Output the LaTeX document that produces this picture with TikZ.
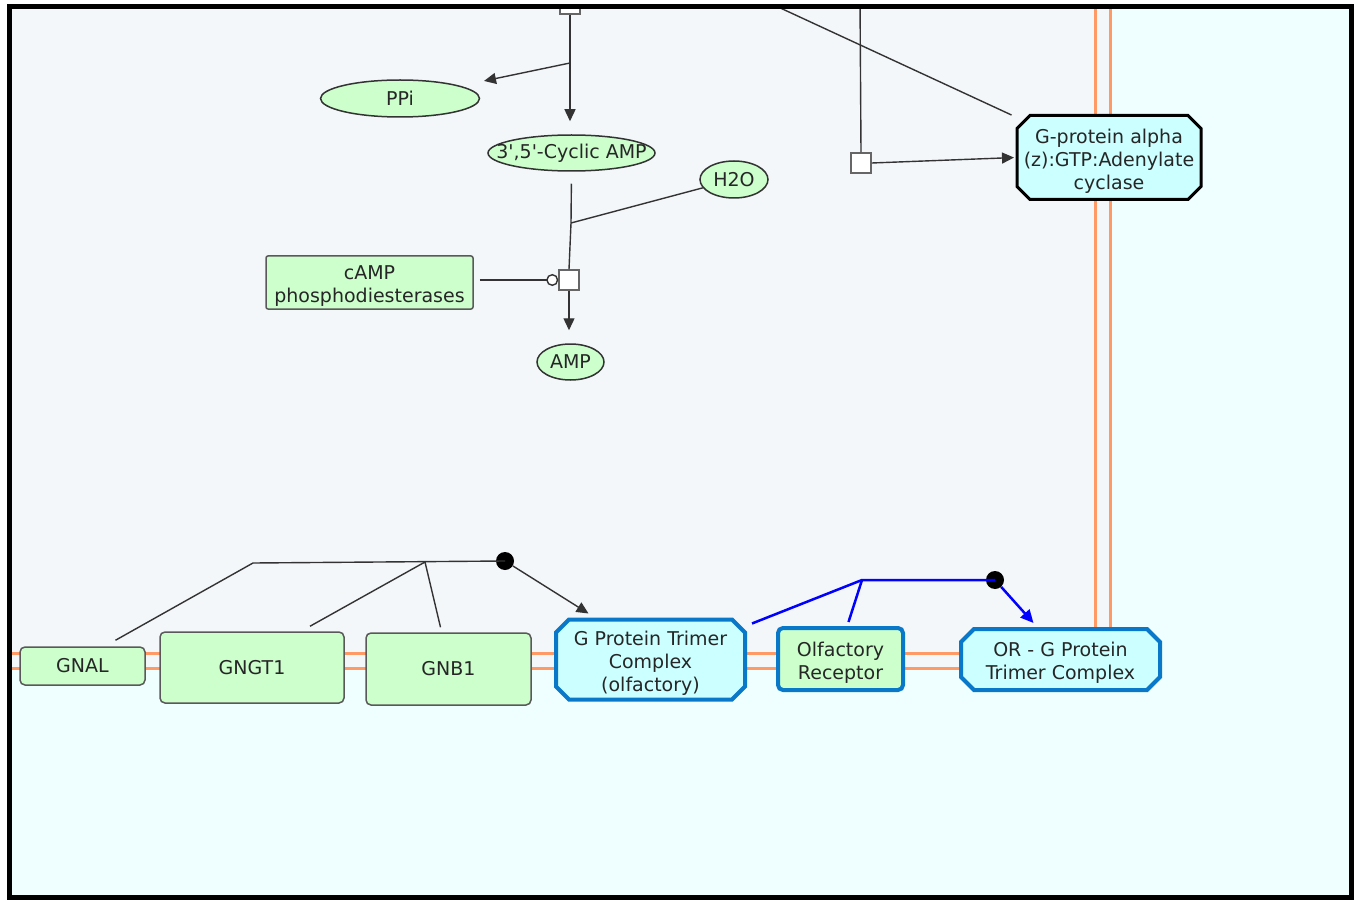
\documentclass[tikz,border=0pt]{standalone}
\usepackage{fontspec}
\setmainfont{DejaVu Sans}
\usetikzlibrary{shapes.geometric,shapes.misc,arrows.meta,calc}
\definecolor{cytobg}{HTML}{F4F7F9}
\definecolor{extbg}{HTML}{EFFFFF}
\definecolor{pgreen}{HTML}{CCFFCC}
\definecolor{pcyan}{HTML}{CCFFFF}
\definecolor{memb}{HTML}{FF9966}
\definecolor{cblue}{HTML}{0A78C8}
\definecolor{rblue}{HTML}{0000FF}
\newcommand{\mlines}[1]{\begin{tabular}[t]{@{}c@{}}#1\end{tabular}}
\tikzset{
  txt/.style={font=\fontsize{19}{23}\selectfont, align=center, text=black!85},
  twolines/.style={text height=17.5pt, text depth=23pt},
  threelines/.style={text height=17.5pt, text depth=46pt},
  ent/.style={ellipse, draw=black!80, line width=1.5pt, fill=pgreen, inner sep=0pt, txt},
  prot/.style={rectangle, rounded corners=5pt, draw=black!65, line width=1.5pt, fill=pgreen, inner sep=0pt, txt},
  cplx/.style={chamfered rectangle, chamfered rectangle xsep=6.5pt, chamfered rectangle ysep=6.5pt, fill=pcyan, inner sep=0pt, txt},
  rxn/.style={rectangle, draw=black!60, fill=white, minimum size=20pt, inner sep=0pt, line width=1.5pt},
  conn/.style={draw=black!80, line width=1.4pt},
  arr/.style={conn, -{Triangle[length=12pt,width=11pt]}},
  bconn/.style={draw=rblue, line width=2.5pt},
  barr/.style={bconn, -{Triangle[length=13pt,width=12pt]}},
  dot/.style={circle, fill=black, minimum size=18pt, inner sep=0pt},
  membline/.style={draw=memb, line width=3pt}
}
\begin{document}
\begin{tikzpicture}[x=1pt,y=-1pt]
\useasboundingbox (0,0) rectangle (1354,901);
\begin{scope}
\clip (9.5,6.5) rectangle (1351.5,897);
\fill[extbg] (9.5,6.5) rectangle (1351.5,897);
\fill[cytobg] (9.5,6.5) rectangle (1110,668);
% membranes
\draw[membline] (5,653) -- (1095,653) -- (1095,0);
\draw[membline] (5,668) -- (1110,668) -- (1110,0);

% top nodes
\node[ent, minimum width=159pt, minimum height=37pt] (ppi) at (400,98.5) {PPi};
\node[ent, minimum width=167pt, minimum height=36pt] (camp) at (571.5,153) {\makebox[0pt]{3\textquotesingle,5\textquotesingle-Cyclic AMP}};
\node[ent, minimum width=68pt, minimum height=37pt] (h2o) at (734,179.5) {H2O};
\node[ent, minimum width=67pt, minimum height=36pt] (amp) at (570.5,362) {AMP};
\node[prot, twolines, rounded corners=2pt, minimum width=207pt, minimum height=53pt] (pde) at (369.5,282.5) {\mlines{cAMP\\phosphodiesterases}};
\node[cplx, threelines, draw=black, line width=3pt, minimum width=184pt, minimum height=84pt] (gpa) at (1109,157.5) {\mlines{G-protein alpha\\(z):GTP:Adenylate\\cyclase}};

% reactions
\node[rxn] (r1) at (570,4) {};
\node[rxn] (r2) at (861,163) {};
\node[rxn] (r3) at (569,280) {};
\coordinate (b1) at (570,63);
\coordinate (b2) at (571,223);
\coordinate (t1) at (776,6);
\coordinate (t2) at (860,0);

\draw[conn] (r1) -- (b1);
\draw[arr, shorten >=13pt] (b1) -- (b1 |- camp.north);
\draw[arr, shorten >=24pt] (b1) -- (ppi);
\draw[conn, shorten <=12pt] (camp.south) -- (b2) -- (r3.north);
\draw[conn] (h2o) -- (b2);
\draw[arr, shorten >=13pt] (r3.south) -- (r3.south |- amp.north);
\draw[conn, shorten <=6pt, -{Circle[fill=white,length=12pt,width=12pt]}] (r3.west -| pde.east) -- (r3.west);
\draw[conn] (t2) -- (r2.north);
\draw[arr, shorten >=1.5pt] (r2.east) -- (gpa.west);
\draw[conn] (t1) -- ($(gpa.west |- gpa.north)+(-4,1)$);

% bottom nodes
\node[prot, minimum width=125pt, minimum height=38pt] (gnal) at (82.5,666) {GNAL};
\node[prot, minimum width=184pt, minimum height=71pt] (gngt1) at (252,667.5) {GNGT1};
\node[prot, minimum width=165pt, minimum height=72pt] (gnb1) at (448.5,669) {GNB1};
\node[cplx, threelines, draw=cblue, line width=4pt, minimum width=189pt, minimum height=80pt] (gptc) at (650.5,659.5) {\mlines{G Protein Trimer\\Complex\\(olfactory)}};
\node[prot, twolines, draw=cblue, line width=4pt, minimum width=125pt, minimum height=62pt] (olf) at (840.5,659) {\mlines{Olfactory\\Receptor}};
\node[cplx, twolines, draw=cblue, line width=4pt, minimum width=199pt, minimum height=61pt] (orc) at (1060.5,659.5) {\mlines{OR - G Protein\\Trimer Complex}};

% bottom connectors
\coordinate (j1) at (253,563);
\coordinate (j2) at (425,562);
\node[dot] (d1) at (505,561) {};
\draw[conn] ([xshift=33pt,yshift=6pt]gnal.north) -- (j1) -- (d1.center);
\draw[conn] ([xshift=58pt,yshift=5pt]gngt1.north) -- (j2) -- ([xshift=-8pt,yshift=5pt]gnb1.north);
\draw[arr] (d1) -- ([xshift=-62pt,yshift=4pt]gptc.north);

\coordinate (j3) at (862,580);
\node[dot] (d2) at (995,580) {};
\draw[bconn] ([xshift=5pt,yshift=36pt]gptc.east) -- (j3) -- (d2.center);
\draw[bconn] ([xshift=8pt,yshift=4pt]olf.north) -- (j3);
\draw[barr] (d2) -- ([xshift=-27pt,yshift=4pt]orc.north);
\end{scope}
\draw[line width=5pt] (9.5,6.5) rectangle (1351.5,897);
\end{tikzpicture}
\end{document}
